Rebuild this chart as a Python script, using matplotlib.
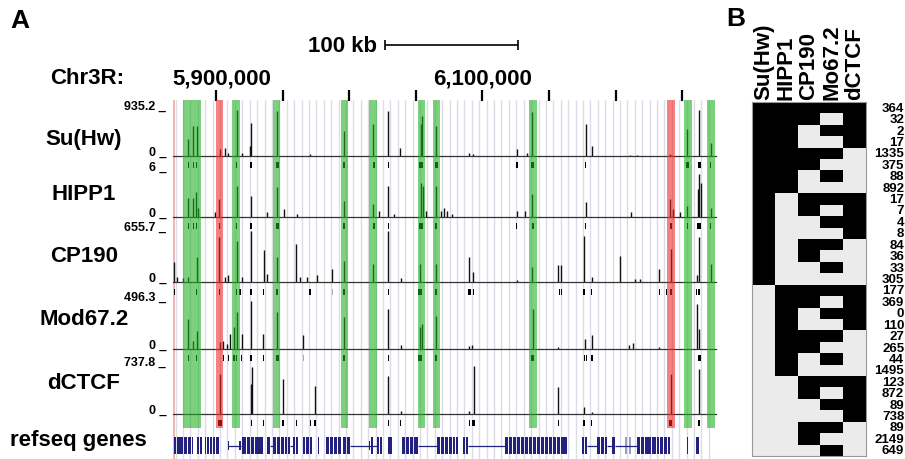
import numpy as np
import matplotlib
matplotlib.use("Agg")
import matplotlib.pyplot as plt
from matplotlib.colors import ListedColormap

plt.rcParams['font.family'] = ['Liberation Sans', 'DejaVu Sans']
plt.rcParams['font.weight'] = 'bold'

W, H = 905, 460
X_START, X_END = 5867.7, 6275.4   # chr3R window, kb

# ---------------- panel A data (positions in kb) ----------------
track_names = ['Su(Hw)', 'HIPP1', 'CP190', 'Mod67.2', 'dCTCF']
track_max = [935.2, 6, 655.7, 496.3, 737.8]
track_max_labels = ['935.2', '6', '655.7', '496.3', '737.8']

suhw_pos = [5879.2, 5883.0, 5885.5, 5903.0, 5906.8, 5909.0, 5915.5, 5919.3, 5925.5, 5926.3,
            5945.6, 5970.6, 5996.1, 6018.1, 6029.4, 6038.1, 6053.7, 6054.9, 6065.0, 6090.2,
            6093.0, 6125.8, 6133.7, 6137.5, 6177.6, 6182.3, 6211.0, 6215.9, 6240.9, 6253.9,
            6262.8, 6271.6]
suhw_val = [340, 620, 620, 140, 170, 65, 935, 65, 205, 680,
            915, 45, 515, 645, 915, 170, 645, 820, 620, 65,
            40, 140, 65, 890, 645, 205, 25, 30, 40, 540,
            935, 270]

hipp1_pos = [5879.2, 5883.0, 5885.3, 5886.7, 5899.2, 5902.5, 5915.5, 5926.3, 5938.1, 5946.0,
             5951.1, 5960.6, 5996.1, 6018.1, 6022.6, 6029.4, 6033.6, 6053.7, 6055.6, 6057.7,
             6065.0, 6068.9, 6071.5, 6073.7, 6077.0, 6125.8, 6132.0, 6137.5, 6177.6, 6211.3,
             6240.9, 6243.3, 6248.4, 6253.9, 6261.6, 6262.8, 6263.9, 6271.6]
hipp1_val = [2.5, 2.5, 3.2, 1.2, 0.6, 2.3, 4.1, 2.8, 0.6, 3.9,
             1.0, 0.4, 2.1, 1.7, 0.8, 4.1, 0.4, 4.5, 4.1, 0.8,
             4.1, 0.8, 1.2, 0.8, 0.35, 0.8, 0.8, 3.0, 1.9, 0.7,
             2.3, 1.0, 0.6, 1.4, 3.6, 5.6, 4.5, 1.2]

cp190_pos = [5868.5, 5870.9, 5875.4, 5879.2, 5885.5, 5902.5, 5906.8, 5909.2, 5915.5, 5919.3,
             5926.3, 5936.0, 5938.1, 5945.6, 5960.1, 5963.1, 5968.5, 5975.6, 5987.3, 5996.1,
             6018.1, 6029.4, 6038.7, 6053.2, 6065.2, 6090.0, 6093.2, 6125.8, 6137.0, 6157.0,
             6158.8, 6176.3, 6182.1, 6203.3, 6214.8, 6218.5, 6232.8, 6241.4, 6260.9, 6262.8,
             6271.6]
cp190_val = [255, 65, 45, 65, 320, 575, 65, 85, 530, 65,
             655, 405, 105, 320, 490, 65, 65, 85, 170, 275,
             235, 655, 55, 235, 235, 320, 130, 30, 190, 215,
             215, 595, 65, 340, 40, 40, 170, 425, 85, 575,
             235]

mod_pos = [5879.2, 5883.0, 5885.5, 5903.0, 5905.0, 5908.0, 5910.5, 5913.5, 5915.5, 5919.3,
           5926.3, 5935.5, 5946.0, 5965.5, 5996.1, 6029.4, 6038.7, 6053.2, 6054.9, 6065.2,
           6090.2, 6092.5, 6137.8, 6157.0, 6177.0, 6182.3, 6210.3, 6213.3, 6232.8, 6261.3,
           6262.8]
mod_val = [308, 80, 185, 70, 80, 45, 150, 220, 377, 150,
           496, 150, 377, 140, 325, 412, 35, 220, 255, 342,
           28, 35, 412, 15, 98, 140, 35, 56, 15, 465,
           203]

dctcf_pos = [5903.0, 5926.3, 5926.8, 5950.5, 5974.3, 6029.4, 6038.7, 6090.2, 6094.0, 6157.0,
             6176.3, 6182.1, 6241.4, 6262.8]
dctcf_val = [615, 460, 717, 538, 435, 590, 50, 50, 738, 410,
             100, 35, 615, 690]

# peak calls under each track: centre (kb) and width (kb)
suhw_calls = [5879.2, 5883.0, 5885.5, 5915.5, 5926.3, 5946.0, 5996.1, 6018.6, 6029.4, 6053.7,
              6065.2, 6125.8, 6137.8, 6177.6, 6253.9, 6262.8, 6271.6]
suhw_call_w = [0.8, 0.8, 0.8, 1.2, 2.0, 2.2, 1.0, 1.0, 1.2, 3.0,
               2.2, 1.5, 2.5, 1.0, 2.5, 2.0, 0.8]
hipp1_calls = [5879.2, 5883.0, 5885.5, 5902.5, 5915.5, 5926.3, 5946.0, 5996.1, 6018.6, 6029.4,
               6053.7, 6065.2, 6125.8, 6137.8, 6177.6, 6241.4, 6253.9, 6262.8, 6271.6]
hipp1_call_w = [0.8, 0.8, 0.8, 0.8, 0.8, 1.2, 2.0, 0.8, 0.8, 0.8,
                3.0, 1.5, 0.8, 1.2, 0.8, 1.2, 1.2, 3.0, 0.8]
cp190_calls = [5868.5, 5885.5, 5902.5, 5915.5, 5918.0, 5926.3, 5935.5, 5946.0, 5970.6, 5996.1,
               6029.4, 6053.2, 6065.2, 6090.2, 6093.2, 6157.8, 6159.6, 6176.3, 6182.1, 6232.8,
               6238.4, 6241.4, 6260.9, 6262.8]
cp190_call_w = [0.8, 0.8, 1.2, 1.2, 1.2, 1.2, 0.8, 1.2, 2.0, 1.2,
                1.2, 2.5, 1.2, 2.0, 0.8, 0.8, 0.8, 2.0, 0.8, 0.8,
                1.0, 1.2, 1.2, 1.2]
mod_calls = [5879.2, 5885.5, 5905.5, 5909.2, 5913.5, 5915.5, 5919.3, 5926.3, 5935.5, 5946.0,
             5996.1, 6029.4, 6053.2, 6065.2, 6137.8, 6177.0, 6178.3, 6182.3, 6262.8]
mod_call_w = [1.0, 1.0, 1.0, 1.0, 1.0, 1.0, 1.0, 1.2, 1.0, 2.5,
              1.2, 1.2, 2.5, 1.2, 2.0, 0.8, 0.8, 0.8, 2.0]
dctcf_calls = [5903.0, 5926.8, 5935.5, 5950.5, 5960.1, 5970.6, 5974.3, 6029.4, 6038.7, 6090.2,
               6093.2, 6157.0, 6176.3, 6182.1, 6241.4, 6262.8]
dctcf_call_w = [2.5, 1.0, 0.8, 1.2, 0.8, 0.8, 0.8, 1.2, 1.0, 1.0,
                2.0, 1.0, 0.8, 0.8, 2.5, 1.8]
faint_calls = [[], [5951.1], [5960.1, 5987.3, 6203.3], [5965.5], []]

# highlighted sites
green_bands = [(5875.2, 5888.5), (5912.0, 5918.0), (5942.8, 5948.1), (5993.9, 5999.1),
               (6014.9, 6020.9), (6051.7, 6056.9), (6062.9, 6068.2), (6135.0, 6141.0),
               (6251.4, 6257.4), (6268.6, 6274.6)]
red_bands = [(5900.0, 5905.3), (6238.6, 6244.6)]

# refseq genes
gene_exons = [(5868.1, 5870.0), (5870.7, 5872.6), (5873.3, 5875.2), (5876.0, 5878.2), (5879.0, 5880.9),
              (5881.6, 5882.7), (5885.7, 5887.2), (5888.0, 5889.5), (5891.4, 5892.5), (5893.2, 5894.4),
              (5895.5, 5897.0), (5897.7, 5899.2), (5900.0, 5901.9),
              (5919.5, 5922.5), (5923.3, 5925.5), (5926.3, 5928.5), (5929.3, 5935.3),
              (5938.3, 5940.5), (5942.8, 5945.0), (5945.8, 5948.1), (5948.8, 5951.1), (5951.8, 5953.3),
              (5954.1, 5955.6), (5957.8, 5959.3), (5960.1, 5961.6), (5965.3, 5966.8), (5967.6, 5969.8),
              (5970.6, 5972.1), (5976.2, 5977.0), (5982.6, 5984.8), (5985.6, 5987.8), (5988.6, 5990.8),
              (5991.6, 5993.9), (5995.4, 5997.6), (5998.4, 6000.6), (6016.4, 6017.9), (6020.9, 6022.4),
              (6023.1, 6024.6), (6029.1, 6030.6), (6031.0, 6032.1), (6039.6, 6041.9), (6042.6, 6044.9),
              (6045.7, 6047.9), (6048.7, 6051.7), (6065.9, 6068.2), (6068.9, 6071.2), (6071.9, 6074.2),
              (6074.9, 6077.2), (6077.6, 6079.4), (6080.2, 6081.7), (6085.4, 6087.0), (6087.7, 6089.2),
              (6116.9, 6119.2), (6120.0, 6122.1), (6122.8, 6125.3), (6126.1, 6128.2), (6129.0, 6131.0),
              (6131.7, 6134.2), (6135.0, 6137.3), (6138.1, 6140.1), (6140.8, 6143.0), (6143.7, 6146.1),
              (6146.9, 6149.2), (6150.0, 6152.0), (6152.7, 6155.0), (6155.8, 6158.1), (6158.9, 6160.9),
              (6161.6, 6163.5), (6174.8, 6176.3), (6177.0, 6178.5), (6186.1, 6188.3), (6189.1, 6191.3),
              (6192.1, 6193.6), (6197.3, 6199.2), (6215.9, 6218.1), (6218.8, 6221.1), (6221.9, 6224.0),
              (6224.7, 6226.9), (6227.6, 6230.0), (6230.8, 6232.9), (6233.7, 6235.8), (6236.5, 6238.6),
              (6239.4, 6240.7), (6253.3, 6254.5), (6260.4, 6262.3)]
gene_utrs = [(5909.0, 5910.1), (5917.3, 5918.8), (6014.9, 6015.6), (6110.8, 6111.3)]
gene_faint = [(6206.8, 6208.3), (6209.8, 6211.3)]
gene_introns = [(5909.0, 5918.8), (5940.5, 5942.8), (5955.6, 5957.8), (6000.6, 6020.9),
                (6051.7, 6065.9), (6089.2, 6116.9), (6178.5, 6186.1), (6193.6, 6197.3),
                (6199.2, 6215.9)]

coord_ticks = [5900, 5950, 6000, 6050, 6100, 6150, 6200, 6250]

# ---------------- panel B data ----------------
b_columns = ['Su(Hw)', 'HIPP1', 'CP190', 'Mo67.2', 'dCTCF']
b_patterns = ['11111', '11101', '11011', '11001', '11110', '11100', '11010', '11000',
              '10111', '10101', '10011', '10001', '10110', '10100', '10010', '10000',
              '01111', '01101', '01011', '01001', '01110', '01100', '01010', '01000',
              '00111', '00101', '00011', '00001', '00110', '00100', '00010']
b_counts = [364, 32, 2, 17, 1335, 375, 88, 892, 17, 7, 4, 8, 84, 36, 33, 305,
            177, 369, 0, 110, 27, 265, 44, 1495, 123, 872, 89, 738, 89, 2149, 649]

signal = [(suhw_pos, suhw_val), (hipp1_pos, hipp1_val), (cp190_pos, cp190_val),
          (mod_pos, mod_val), (dctcf_pos, dctcf_val)]
calls = [(suhw_calls, suhw_call_w), (hipp1_calls, hipp1_call_w), (cp190_calls, cp190_call_w),
         (mod_calls, mod_call_w), (dctcf_calls, dctcf_call_w)]

# pixel layout: (track top, baseline, call top, call bottom, label y)
track_geom = [(111, 157, 163, 169, 140), (172, 218, 224, 230, 194), (232, 283, 290, 296, 257),
              (302, 349.5, 356, 362, 320), (367, 415, 421, 427, 384)]

fig = plt.figure(figsize=(W / 100, H / 100), dpi=100)


def px_box(x0, y0, x1, y1):
    return [x0 / W, 1 - y1 / H, (x1 - x0) / W, (y1 - y0) / H]


def ftext(x, y, s, **kw):
    fig.text(x / W, 1 - y / H, s, **kw)


def strip_axes(y0, y1, zorder=1):
    ax = fig.add_axes(px_box(173, y0, 716, y1), zorder=zorder)
    ax.set_xlim(X_START, X_END)
    ax.axis('off')
    return ax


# background guide lines
bg = strip_axes(101, 460, zorder=0)
bg.set_ylim(0, 1)
bg.vlines(np.arange(X_START + 2.0, X_END, 5.56), 0, 1, color='#dcdce8', lw=1.0)
bg.axvline(X_START + 0.4, color='#f0a8a8', lw=1.2)

# signal tracks and peak calls
for i, name in enumerate(track_names):
    top, base, c0, c1, ly = track_geom[i]
    ax = strip_axes(top, base, zorder=2)
    ax.set_ylim(0, track_max[i])
    pos, val = signal[i]
    ax.vlines(pos, 0, val, color='#111111', lw=1.0)
    ax.axhline(0, color='#333333', lw=0.9, clip_on=False)

    cax = strip_axes(c0, c1, zorder=2)
    cax.set_ylim(0, 1)
    cpos, cw = calls[i]
    cax.bar(cpos, 1, width=cw, color='black', align='center')
    if faint_calls[i]:
        cax.bar(faint_calls[i], 1, width=0.6, color='#b0b0b0', align='center')

    ftext(84, ly, name, ha='center', va='center', fontsize=16)
    ftext(166, top - 1, track_max_labels[i] + ' _', ha='right', va='baseline', fontsize=9)
    ftext(166, base - 1, '0 _', ha='right', va='baseline', fontsize=9)

# highlight bands over the tracks
ov = strip_axes(101, 429, zorder=5)
for s, e in green_bands:
    ov.axvspan(s, e, color='#1eb11e', alpha=0.58, lw=0)
for s, e in red_bands:
    ov.axvspan(s, e, color='#ee2626', alpha=0.58, lw=0)

# genes
gx = strip_axes(438, 455, zorder=3)
gx.set_ylim(0, 1)
navy = '#22227e'
gx.hlines([0.5] * len(gene_introns), [s for s, e in gene_introns], [e for s, e in gene_introns],
          color=navy, lw=0.9)
gx.broken_barh([(s, e - s) for s, e in gene_exons], (0.0, 1.0), facecolors=navy)
gx.broken_barh([(s, e - s) for s, e in gene_utrs], (0.25, 0.5), facecolors=navy)
gx.broken_barh([(s, e - s) for s, e in gene_faint], (0.0, 1.0), facecolors='#9c9cc4')
ftext(10, 441, 'refseq genes', ha='left', va='center', fontsize=16)

# header: coordinates and scale bar
hd = fig.add_axes(px_box(173, 0, 716, 103), zorder=3)
hd.set_xlim(X_START, X_END)
hd.set_ylim(103, 0)
hd.axis('off')
hd.vlines(coord_ticks, 91, 102, color='black', lw=1.6)
hd.hlines(46, 6027, 6127, color='black', lw=1.2)
hd.vlines([6027, 6127], 41, 51, color='black', lw=1.2)
hd.text(6021, 46, '100 kb', ha='right', va='center', fontsize=16)
hd.text(5904, 79, '5,900,000', ha='center', va='center', fontsize=16)
hd.text(6100, 79, '6,100,000', ha='center', va='center', fontsize=16)
ftext(50, 79, 'Chr3R:', ha='left', va='center', fontsize=16)
ftext(10, 21, 'A', ha='left', va='center', fontsize=19)

# ---------------- panel B ----------------
mat = np.array([[int(c) for c in p] for p in b_patterns])
hm = fig.add_axes(px_box(752, 103, 866, 457))
hm.imshow(mat, cmap=ListedColormap(['#ebebeb', 'black']), aspect='auto',
          interpolation='nearest', vmin=0, vmax=1)
hm.set_xticks([])
hm.set_yticks([])
for sp in hm.spines.values():
    sp.set_color('#999999')
    sp.set_linewidth(0.8)
for j, col in enumerate(b_columns):
    hm.text(j, -0.75, col, rotation=90, ha='center', va='bottom', fontsize=16)
for i, c in enumerate(b_counts):
    hm.text(1.335, i, str(c), transform=hm.get_yaxis_transform(), ha='right',
            va='center', fontsize=9.5)
ftext(726, 19, 'B', ha='left', va='center', fontsize=19)

fig.savefig('out.png', dpi=100)
